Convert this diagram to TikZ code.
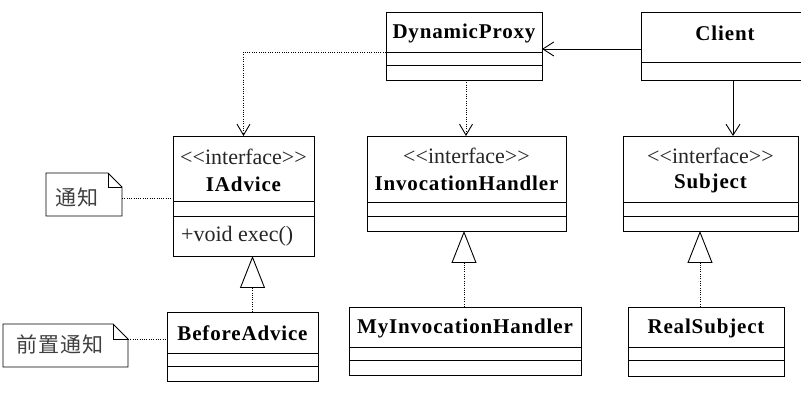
\documentclass[tikz,border=0pt]{standalone}
\usepackage{fontspec}
\setmainfont{Liberation Serif}
\newfontfamily\cjk{Noto Sans CJK SC}
\usetikzlibrary{arrows.meta,calc}
\begin{document}
\begin{tikzpicture}[x=1pt,y=-1pt,
  box/.style={draw, line width=0.9pt, inner sep=0pt, outer sep=0pt, anchor=north west},
  plain/.style={inner sep=0pt, outer sep=0pt, anchor=north west},
  div/.style={line width=0.9pt},
  cname/.style={font=\fontsize{21}{23}\selectfont\bfseries\addfontfeatures{LetterSpace=4}, inner sep=0pt},
  stereo/.style={font=\fontsize{22}{24}\selectfont, text=black!85, inner sep=0pt},
  ntext/.style={font=\cjk\fontsize{21}{23}\selectfont\addfontfeatures{LetterSpace=5}, text=black!75, inner sep=0pt},
  assoc/.style={line width=0.9pt, -{Straight Barb[length=11pt,width=14pt,line width=0.9pt]}},
  dep/.style={line width=0.8pt, dash pattern=on 1pt off 1.3pt, -{Straight Barb[length=11pt,width=13pt,line width=0.9pt]}},
  real/.style={line width=0.8pt, dash pattern=on 1pt off 1.3pt, -{Triangle[open,length=32pt,width=25pt,line width=0.9pt]}},
  link/.style={line width=0.8pt, dash pattern=on 1pt off 1.3pt},
  notebox/.style={line width=0.9pt}
]
\useasboundingbox[fill=white] (0,0) rectangle (801,406);

% DynamicProxy
\node[box, minimum width=156pt, minimum height=68pt] (dp) at (386,12) {};
\draw[div] ($(dp.north west)+(0,40)$) -- ($(dp.north east)+(0,40)$);
\draw[div] ($(dp.north west)+(0,53)$) -- ($(dp.north east)+(0,53)$);
\node[cname] (dpn) at (464,33) {DynamicProxy};

% Client (extends past the right edge)
\node[box, minimum width=175pt, minimum height=68pt] (client) at (641,12) {};
\draw[div] ($(client.north west)+(0,50)$) -- ($(client.north east)+(0,50)$);
\node[cname] (clientn) at (725,33) {Client};

% IAdvice
\node[box, minimum width=141pt, minimum height=120pt] (ia) at (173,136) {};
\draw[div] ($(ia.north west)+(0,65)$) -- ($(ia.north east)+(0,65)$);
\draw[div] ($(ia.north west)+(0,80)$) -- ($(ia.north east)+(0,80)$);
\node[stereo] (ias) at (243.5,157) {<{}<interface>{}>};
\node[cname] (ian) at (243.5,184) {IAdvice};
\node[stereo, anchor=west] (iam) at (181,236) {+void exec()};

% InvocationHandler
\node[box, minimum width=199pt, minimum height=95pt] (ih) at (367,136) {};
\draw[div] ($(ih.north west)+(0,66)$) -- ($(ih.north east)+(0,66)$);
\draw[div] ($(ih.north west)+(0,80)$) -- ($(ih.north east)+(0,80)$);
\node[stereo] (ihs) at (466.5,156) {<{}<interface>{}>};
\node[cname] (ihn) at (466.5,183) {InvocationHandler};

% Subject
\node[box, minimum width=175pt, minimum height=95pt] (subj) at (623,136) {};
\draw[div] ($(subj.north west)+(0,66)$) -- ($(subj.north east)+(0,66)$);
\draw[div] ($(subj.north west)+(0,80)$) -- ($(subj.north east)+(0,80)$);
\node[stereo] (subjs) at (710.5,156) {<{}<interface>{}>};
\node[cname] (subjn) at (710.5,183) {Subject};

% BeforeAdvice
\node[box, minimum width=151pt, minimum height=69pt] (ba) at (167,312) {};
\draw[div] ($(ba.north west)+(0,41)$) -- ($(ba.north east)+(0,41)$);
\draw[div] ($(ba.north west)+(0,54)$) -- ($(ba.north east)+(0,54)$);
\node[cname] (ban) at (242.5,333) {BeforeAdvice};

% MyInvocationHandler
\node[box, minimum width=232pt, minimum height=68pt] (mih) at (349,307) {};
\draw[div] ($(mih.north west)+(0,40)$) -- ($(mih.north east)+(0,40)$);
\draw[div] ($(mih.north west)+(0,53)$) -- ($(mih.north east)+(0,53)$);
\node[cname] (mihn) at (465,328) {MyInvocationHandler};

% RealSubject
\node[box, minimum width=156pt, minimum height=69pt] (rs) at (628,307) {};
\draw[div] ($(rs.north west)+(0,40)$) -- ($(rs.north east)+(0,40)$);
\draw[div] ($(rs.north west)+(0,53)$) -- ($(rs.north east)+(0,53)$);
\node[cname] (rsn) at (706,328) {RealSubject};

% Notes
\node[plain, minimum width=76pt, minimum height=43pt] (n1) at (46,173) {};
\draw[notebox] ($(n1.north east)+(-14,0)$) -- (n1.north west) -- (n1.south west) -- (n1.south east) -- ($(n1.north east)+(0,14)$) -- cycle;
\draw[notebox] ($(n1.north east)+(-14,0)$) -- ($(n1.north east)+(-14,14)$) -- ($(n1.north east)+(0,14)$);
\node[ntext] (n1t) at (77,197) {通知};

\node[plain, minimum width=125pt, minimum height=43pt] (n2) at (3,324) {};
\draw[notebox] ($(n2.north east)+(-15,0)$) -- (n2.north west) -- (n2.south west) -- (n2.south east) -- ($(n2.north east)+(0,15)$) -- cycle;
\draw[notebox] ($(n2.north east)+(-15,0)$) -- ($(n2.north east)+(-15,15)$) -- ($(n2.north east)+(0,15)$);
\node[ntext] (n2t) at (60,344) {前置通知};

% Connector end points on the nodes
\coordinate (cw) at ($(client.north west)+(0,37)$);
\coordinate (cs) at ($(client.south west)+(92,0)$);
\coordinate (dpw) at ($(dp.north west)+(0,40)$);
\coordinate (dps) at ($(dp.south)+(2,0)$);
\coordinate (ban2) at ($(ba.north)+(10,0)$);
\coordinate (mihn2) at ($(mih.north)+(-1,0)$);
\coordinate (rsn2) at ($(rs.north)+(-6,0)$);
\coordinate (n1e) at ($(n1.north east)+(0,25)$);
\coordinate (n2e) at ($(n2.north east)+(0,15)$);

% Connectors
\draw[assoc] (cw) -- (cw -| dp.east);
\draw[assoc] (cs) -- (cs |- subj.north);
\draw[dep] (dpw) -| (ia.north);
\draw[dep] (dps) -- (dps |- ih.north);
\draw[real] (ban2) -- (ban2 |- ia.south);
\draw[real] (mihn2) -- (mihn2 |- ih.south);
\draw[real] (rsn2) -- (rsn2 |- subj.south);
\draw[link] (n1e) -- (n1e -| ia.west);
\draw[link] (n2e) -- (n2e -| ba.west);
\end{tikzpicture}
\end{document}
